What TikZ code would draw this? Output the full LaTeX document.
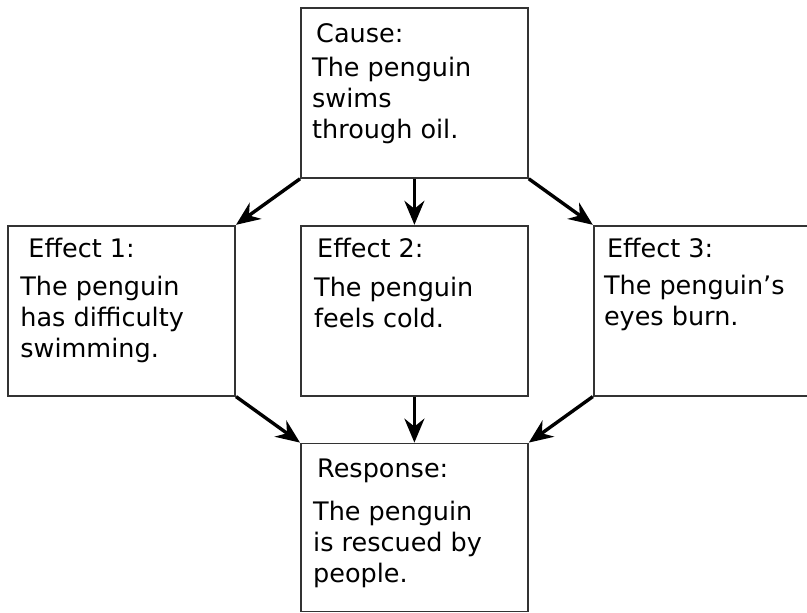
\documentclass[tikz,border=0pt]{standalone}
\usepackage{fontspec}
\setmainfont{DejaVu Sans}
\usetikzlibrary{arrows.meta, positioning}

\begin{document}
\begin{tikzpicture}[x=1pt, y=-1pt]
  \tikzset{box/.style={draw=black!80, line width=1.8pt, minimum width=227pt, minimum height=170pt, inner sep=0pt},
    head/.style={anchor=base west, inner sep=0pt, font=\fontsize{25.5}{31}\selectfont},
    body/.style={anchor=base west, inner sep=0pt, align=left, font=\fontsize{25.5}{31}\selectfont},
    arr/.style={-{Stealth[length=24pt, width=20pt, inset=8pt]}, line width=3.4pt},
    node distance=46pt and 64pt}
  \useasboundingbox (0,0) rectangle (807,613);

  % boxes
  \node[box, anchor=north west] (cause) at (300,7) {};
  \node[box, below=of cause] (e2) {};
  \node[box, left=of e2] (e1) {};
  \node[box, right=of e2] (e3) {};
  \node[box, below=of e2, minimum height=168pt] (resp) {};

  % texts (body nodes sit on their last line)
  \node[head] (causeh) at ([xshift=16pt, yshift=-35pt]cause.north west) {Cause:};
  \node[body] (causeb) at ([xshift=12pt, yshift=-131pt]cause.north west) {The penguin\\swims\\through oil.};
  \node[head] (e1h) at ([xshift=21pt, yshift=-33pt]e1.north west) {Effect 1:};
  \node[body] (e1b) at ([xshift=13pt, yshift=-133pt]e1.north west) {The penguin\\has difficulty\\swimming.};
  \node[head] (e2h) at ([xshift=17pt, yshift=-33pt]e2.north west) {Effect 2:};
  \node[body] (e2b) at ([xshift=14pt, yshift=-103pt]e2.north west) {The penguin\\feels cold.};
  \node[head] (e3h) at ([xshift=14pt, yshift=-33pt]e3.north west) {Effect 3:};
  \node[body] (e3b) at ([xshift=11pt, yshift=-101pt]e3.north west) {The penguin’s\\eyes burn.};
  \node[head] (resph) at ([xshift=17pt, yshift=-35pt]resp.north west) {Response:};
  \node[body] (respb) at ([xshift=13pt, yshift=-140pt]resp.north west) {The penguin\\is rescued by\\people.};

  % arrows
  \draw[arr] (cause.south west) -- (e1.north east);
  \draw[arr] (cause.south) -- (e2.north);
  \draw[arr] (cause.south east) -- (e3.north west);
  \draw[arr] (e1.south east) -- (resp.north west);
  \draw[arr] (e2.south) -- (resp.north);
  \draw[arr] (e3.south west) -- (resp.north east);
\end{tikzpicture}
\end{document}
